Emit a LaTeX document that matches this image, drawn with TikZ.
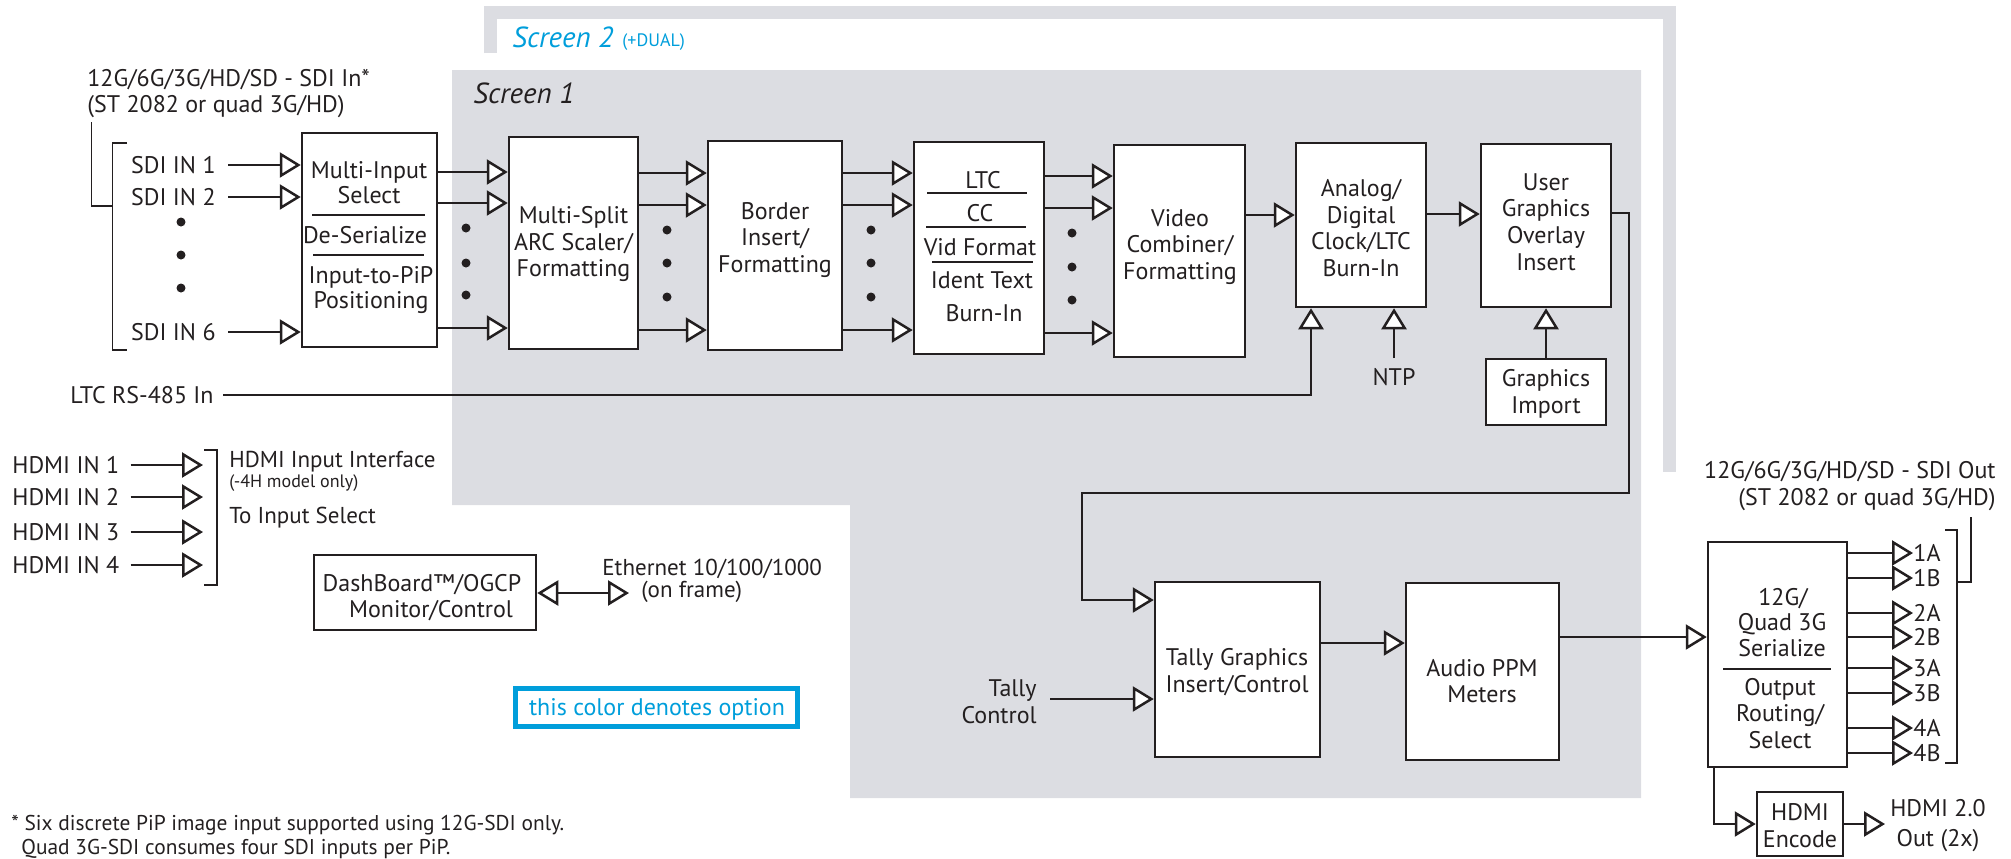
\documentclass[tikz,border=0pt]{standalone}
\usepackage{fontspec}
\setmainfont{PT Sans}
\usetikzlibrary{arrows.meta,fit,calc}
\definecolor{scrgray}{RGB}{220,221,226}
\definecolor{optblue}{RGB}{0,158,219}
\definecolor{ink}{RGB}{35,31,32}
\newcommand{\fA}{\fontsize{12}{13.4}\selectfont}
\newcommand{\fB}{\fontsize{11.5}{13}\selectfont}
\newcommand{\fS}{\fontsize{9}{10}\selectfont}
\newcommand{\fF}{\fontsize{10.7}{12}\selectfont}
\newcommand{\fT}{\fontsize{14.5}{15}\selectfont}
\begin{document}
\begin{tikzpicture}[x=0.5pt,y=-0.5pt,
  box/.style={draw=ink, line width=1.25pt, fill=white, inner sep=0pt},
  con/.style={draw=ink, line width=1.25pt},
  arr/.style={con, -{Triangle[length=10.5pt,width=12.5pt,fill=white]}},
  darr/.style={con, {Triangle[length=10.5pt,width=12.5pt,fill=white]}-{Triangle[length=10.5pt,width=12.5pt,fill=white]}},
  sepline/.style={draw=ink, line width=0.6pt},
  brk/.style={draw=ink, line width=0.6pt},
  tx/.style={inner sep=0pt, text=ink, font=\fA, text height=8.4pt, text depth=0pt},
  txb/.style={inner sep=0pt, text=ink, font=\fB, text height=8pt, text depth=0pt},
  txs/.style={inner sep=0pt, text=ink, font=\fS, text height=6.3pt, text depth=0pt},
  txf/.style={inner sep=0pt, text=ink, font=\fF, text height=7.5pt, text depth=0pt},
  btx/.style={inner sep=0pt, text=ink, font=\fA, align=center},
  dot/.style={circle, fill=ink, inner sep=0pt, minimum size=4.5pt},
]
\useasboundingbox (0,0) rectangle (2011,858);

% ---------- screen regions ----------
\fill[scrgray] (452,70) -- (1641,70) -- (1641,798) -- (850,798) -- (850,505) -- (452,505) -- cycle;
\draw[scrgray, line width=6.5pt] (490.5,53) -- (490.5,12.5) -- (1669.5,12.5) -- (1669.5,472);
\node[inner sep=0pt, anchor=base west, text=optblue, font=\fT\itshape] (scr2) at (512,47) {Screen 2};
\node[inner sep=0pt, anchor=base west, text=optblue, font=\fS] (dual) at (622,46) {(+DUAL)};
\node[inner sep=0pt, anchor=base west, text=ink, font=\fT\itshape] (scr1) at (473,103) {Screen 1};

% ---------- SDI inputs ----------
\node[tx, anchor=west] (sdit1) at (87,78) {12G/6G/3G/HD/SD - SDI In*};
\node[tx, anchor=west] (sdit2) at (87,104) {(ST 2082 or quad 3G/HD)};
\draw[brk] (91.5,122) -- (91.5,206) -- (112.5,206);
\draw[brk] (127,143) -- (112.5,143) -- (112.5,350) -- (127,350);
\node[tx, anchor=east] (sdi1) at (216,165) {SDI IN 1};
\node[tx, anchor=east] (sdi2) at (216,197) {SDI IN 2};
\node[tx, anchor=east] (sdi6) at (216,332) {SDI IN 6};

\foreach \n/\x/\ya/\yb/\yc in {a/181/222/255/288, b/466/228/263/295, c/667/230/263/297, d/871/230/263/297, e/1072/233/267/300}{
  \node[dot] (dot\n1) at (\x,\ya) {};
  \node[dot] (dot\n2) at (\x,\yb) {};
  \node[dot] (dot\n3) at (\x,\yc) {};
}

% ---------- boxes ----------
\node[box, fit={(302,133) (437,347)}] (mis) {};
\node[box, fit={(509,137) (638,349)}] (msp) {};
\node[box, fit={(708,141) (842,350)}] (bor) {};
\node[box, fit={(914,142) (1044,354)}] (ltc) {};
\node[box, fit={(1114,145) (1245,357)}] (vid) {};
\node[box, fit={(1296,143) (1426,307)}] (ana) {};
\node[box, fit={(1481,144) (1611,307)}] (usr) {};
\node[box, fit={(1486,359) (1606,425)}] (gim) {};
\node[box, fit={(1155,582) (1320,757)}] (tal) {};
\node[box, fit={(1406,583) (1559,760)}] (aud) {};
\node[box, fit={(1708,542) (1847,767)}] (ser) {};
\node[box, fit={(1757,792) (1843,856)}] (hen) {};
\node[box, fit={(314,555) (536,630)}] (dsh) {};

% box texts
\node[tx] (misT1) at (369,170) {Multi-Input};
\node[tx] (misT2) at (369,195) {Select};
\draw[sepline] (312,215) -- (425,215);
\node[tx] (misT3) at (365,235) {De-Serialize};
\draw[sepline] (313,255) -- (424,255);
\node[tx] (misT4) at (371,275) {Input-to-PiP};
\node[tx] (misT5) at (371,300) {Positioning};

\node[btx] (mspT) at (573.5,244) {Multi-Split\\ARC Scaler/\\Formatting};
\node[btx] (borT) at (775,240) {Border\\Insert/\\Formatting};

\node[tx] (ltcT1) at (983,180) {LTC};
\draw[sepline] (927,193) -- (1027,193);
\node[tx] (ltcT2) at (980,213) {CC};
\draw[sepline] (926,227) -- (1026,227);
\node[tx] (ltcT3) at (980,247) {Vid Format};
\draw[sepline] (932,262) -- (1033,262);
\node[tx] (ltcT4) at (982,280) {Ident Text};
\node[tx] (ltcT5) at (984,313) {Burn-In};

\node[btx] (vidT) at (1180,247) {Video\\Combiner/\\Formatting};
\node[btx] (anaT) at (1361,228) {Analog/\\Digital\\Clock/LTC\\Burn-In};
\node[btx] (usrT) at (1546,222) {User\\Graphics\\Overlay\\Insert};
\node[btx] (gimT) at (1546,394) {Graphics\\Import};
\node[btx] (talT) at (1237,672) {Tally Graphics\\Insert/Control};
\node[btx] (audT) at (1482,681) {Audio PPM\\Meters};

\node[tx] (serT1) at (1783,597) {12G/};
\node[tx] (serT2) at (1782,622) {Quad 3G};
\node[tx] (serT3) at (1782,648) {Serialize};
\draw[sepline] (1723,669) -- (1831,669);
\node[tx] (serT4) at (1780,687) {Output};
\node[tx] (serT5) at (1780,713) {Routing/};
\node[tx] (serT6) at (1780,740) {Select};

\node[tx] (henT1) at (1800,812) {HDMI};
\node[tx] (henT2) at (1800,839) {Encode};

\node[tx] (dshT1) at (422,583) {DashBoard\texttrademark/OGCP};
\node[tx] (dshT2) at (431,609) {Monitor/Control};

% ---------- y-level coordinates ----------
\coordinate (yA1) at (0,172);
\coordinate (yA2) at (0,203);
\coordinate (yA3) at (0,328);
\coordinate (yB1) at (0,173);
\coordinate (yB2) at (0,205);
\coordinate (yB3) at (0,330);
\coordinate (yC1) at (0,176);
\coordinate (yC2) at (0,208);
\coordinate (yC3) at (0,333);
\coordinate (yD) at (0,215);
\coordinate (yE) at (0,214);
\coordinate (yF) at (0,213);
\coordinate (yG) at (0,600);
\coordinate (yI) at (0,643);
\coordinate (yJ) at (0,637);

% ---------- main chain connectors ----------
\draw[arr] ([xshift=6pt]sdi1.east) -- (sdi1.east -| mis.west);
\draw[arr] ([xshift=6pt]sdi2.east) -- (sdi2.east -| mis.west);
\draw[arr] ([xshift=6pt]sdi6.east) -- (sdi6.east -| mis.west);

\foreach \c in {yA1,yA2,yA3}{ \draw[arr] (mis.east |- \c) -- (msp.west |- \c); }
\foreach \c in {yB1,yB2,yB3}{ \draw[arr] (msp.east |- \c) -- (bor.west |- \c); }
\foreach \c in {yB1,yB2,yB3}{ \draw[arr] (bor.east |- \c) -- (ltc.west |- \c); }
\foreach \c in {yC1,yC2,yC3}{ \draw[arr] (ltc.east |- \c) -- (vid.west |- \c); }
\draw[arr] (vid.east |- yD) -- (ana.west |- yD);
\draw[arr] (ana.east |- yE) -- (usr.west |- yE);

% LTC RS-485
\node[tx, anchor=east] (ltcin) at (214,395) {LTC RS-485 In};
\coordinate (ltcx) at (1311,0);
\draw[arr] ([xshift=4.5pt]ltcin.east) -| (ltcx |- ana.south);

% NTP
\node[tx] (ntp) at (1394,377) {NTP};
\draw[arr] ([yshift=5pt]ntp.north) -- (ntp.north |- ana.south);

% graphics import
\draw[arr] (gim.north) -- (gim.north |- usr.south);

% user graphics -> tally
\coordinate (k1) at (1629,493);
\coordinate (k2) at (1082,493);
\draw[arr] (usr.east |- yF) -| (k1) -- (k2) |- (tal.west |- yG);

% tally control
\node[tx, anchor=east] (tc1) at (1037,688) {Tally};
\node[tx, anchor=east] (tc2) at (1037,715) {Control};
\coordinate (tcs) at (1050,699);
\draw[arr] (tcs) -- (tal.west |- tcs);

\draw[arr] (tal.east |- yI) -- (aud.west |- yI);
\draw[arr] (aud.east |- yJ) -- (ser.west |- yJ);

% serializer outputs
\foreach \l/\y in {1A/553,1B/578,2A/613,2B/637,3A/668,3B/693,4A/728,4B/753}{
  \node[tx, anchor=west] (o\l) at (1913,\y) {\l};
  \draw[arr] (ser.east |- o\l.west) -- (o\l.west);
}
\draw[brk] (1945,530) -- (1957,530) -- (1957,763) -- (1945,763);
\draw[brk] (1971,517) -- (1971,582) -- (1957,582);
\node[tx, anchor=east] (sdo1) at (1996,470) {12G/6G/3G/HD/SD - SDI Out};
\node[tx, anchor=east] (sdo2) at (1996,497) {(ST 2082 or quad 3G/HD)};

% HDMI encode
\coordinate (sh) at (1714,0);
\draw[arr] (sh |- ser.south) |- (hen.west);
\coordinate (oh) at (1885,0);
\draw[arr] (hen.east) -- (hen.east -| oh);
\node[tx] (hout1) at (1938,808) {HDMI 2.0};
\node[tx] (hout2) at (1938,838) {Out (2x)};

% ---------- HDMI inputs ----------
\coordinate (hbr) at (203,0);
\node[tx, anchor=west] (h1) at (12,465) {HDMI IN 1};
\node[tx, anchor=west] (h2) at (12,497) {HDMI IN 2};
\node[tx, anchor=west] (h3) at (12,532) {HDMI IN 3};
\node[tx, anchor=west] (h4) at (12,565) {HDMI IN 4};
\foreach \h in {h1,h2,h3,h4}{ \draw[arr] ([xshift=5.5pt]\h.east) -- (\h.east -| hbr); }
\draw[brk] (204,450) -- (217,450) -- (217,585) -- (204,585);
\node[txb, anchor=west] (hif1) at (229,459) {HDMI Input Interface};
\node[txs, anchor=west] (hif2) at (229,481) {(-4H model only)};
\node[txb, anchor=west] (hif3) at (229,515) {To Input Select};

% ---------- DashBoard / Ethernet ----------
\coordinate (ethc) at (629,593);
\draw[darr] (dsh.east |- ethc) -- (ethc);
\node[txb, anchor=west] (eth1) at (602,567) {Ethernet 10/100/1000};
\node[txb, anchor=west] (eth2) at (641,589) {(on frame)};

% ---------- legend ----------
\node[draw=optblue, line width=2.5pt, inner sep=0pt, fit={(515.5,688.5) (797.5,726.5)}] (leg) {};
\node[tx, text=optblue] (legT) at (657,707) {this color denotes option};

% ---------- footnote ----------
\node[txf, anchor=west] (fn1) at (11,823) {* Six discrete PiP image input supported using 12G-SDI only.};
\node[txf, anchor=west] (fn2) at (21,847) {Quad 3G-SDI consumes four SDI inputs per PiP.};
\end{tikzpicture}
\end{document}
